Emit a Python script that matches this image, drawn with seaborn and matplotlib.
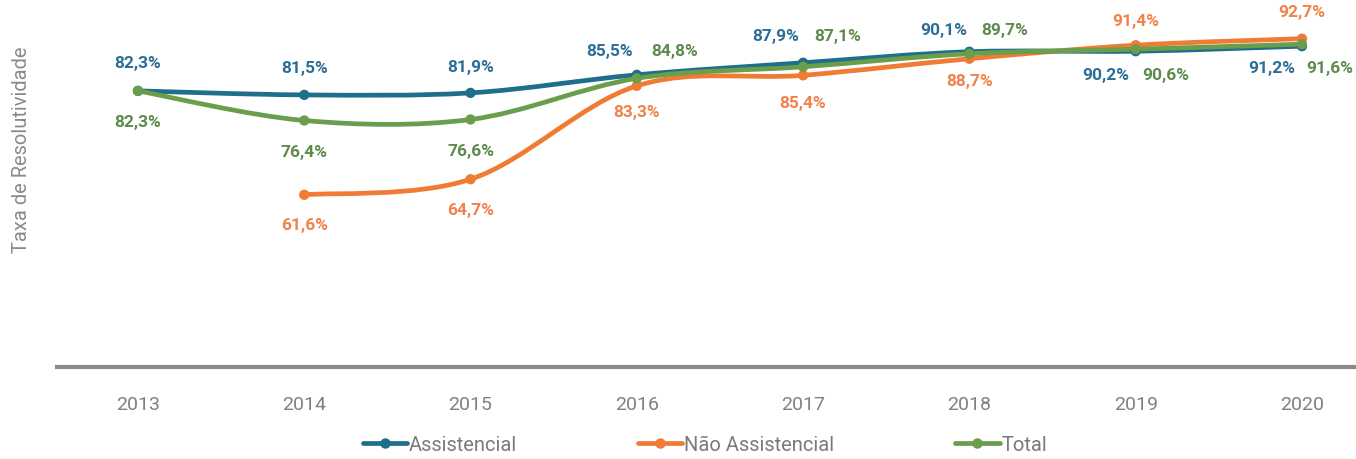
import numpy as np
import pandas as pd
import matplotlib
matplotlib.use("Agg")
import matplotlib.pyplot as plt
from matplotlib.path import Path
from matplotlib.patches import PathPatch
import seaborn as sns
from matplotlib import font_manager

# ---------------- data ----------------
years = [2013, 2014, 2015, 2016, 2017, 2018, 2019, 2020]
assistencial = [82.3, 81.5, 81.9, 85.5, 87.9, 90.1, 90.2, 91.2]
nao_assistencial = [None, 61.6, 64.7, 83.3, 85.4, 88.7, 91.4, 92.7]
total = [82.3, 76.4, 76.6, 84.8, 87.1, 89.7, 90.6, 91.6]
series_names = ["Assistencial", "Não Assistencial", "Total"]

# label placement: (dx px, dy px) per point
lab_assist = [(0, 28), (0, 27), (0, 26), (-27, 24), (-27, 27), (-26, 22), (-30, -23), (-30, -21)]
lab_nao = [None, (0, -30), (0, -30), (0, -26), (0, -27), (0, -22), (0, 25), (0, 27)]
lab_total = [(0, -31), (0, -31), (0, -31), (38, 27.5), (35, 31), (35, 24), (30, -25), (28, -23)]

colors = {"Assistencial": "#1e6e8c", "Não Assistencial": "#f07b35", "Total": "#6a9d4c"}
label_colors = {"Assistencial": "#2b6f96", "Não Assistencial": "#f0824a", "Total": "#5e8a4c"}

# ---------------- fonts ----------------
sns.set_theme(style="white")
avail = {f.name for f in font_manager.fontManager.ttflist}
narrow = "Liberation Sans Narrow" if "Liberation Sans Narrow" in avail else "Roboto"
plt.rcParams["font.family"] = [narrow, "DejaVu Sans"]

W, H = 1356, 460
fig = plt.figure(figsize=(W / 100, H / 100), dpi=100)
ax = fig.add_axes([57 / W, 92 / H, 1 - 57 / W, 1 - 92 / H])

rows = []
for name, vals in zip(series_names, [assistencial, nao_assistencial, total]):
    for y, v in zip(years, vals):
        if v is not None:
            rows.append({"Ano": y, "Taxa": v, "Série": name})
df = pd.DataFrame(rows)


def smooth_path(xs, ys):
    # Catmull-Rom style cubic bezier through data points (in data coords)
    verts = [(xs[0], ys[0])]
    codes = [Path.MOVETO]
    n = len(xs)
    for i in range(n - 1):
        p0 = (xs[max(i - 1, 0)], ys[max(i - 1, 0)])
        p1 = (xs[i], ys[i])
        p2 = (xs[i + 1], ys[i + 1])
        p3 = (xs[min(i + 2, n - 1)], ys[min(i + 2, n - 1)])
        c1 = (p1[0] + (p2[0] - p0[0]) / 6, p1[1] + (p2[1] - p0[1]) / 6)
        c2 = (p2[0] - (p3[0] - p1[0]) / 6, p2[1] - (p3[1] - p1[1]) / 6)
        verts += [c1, c2, p2]
        codes += [Path.CURVE4] * 3
    return Path(verts, codes)


order = ["Não Assistencial", "Assistencial", "Total"]
zo = {"Não Assistencial": 3, "Assistencial": 4, "Total": 5}
for name in order:
    sub = df[df["Série"] == name]
    p = smooth_path(sub["Ano"].tolist(), sub["Taxa"].tolist())
    ax.add_patch(PathPatch(p, facecolor="none", edgecolor=colors[name], lw=3.4,
                           capstyle="round", zorder=zo[name]))

sns.scatterplot(data=df, x="Ano", y="Taxa", hue="Série", palette=colors,
                hue_order=series_names, s=55, edgecolor="none", legend=False,
                ax=ax, zorder=6)


def fmt(v):
    return f"{v:.1f}".replace(".", ",") + "%"


for name, vals, labs in [("Assistencial", assistencial, lab_assist),
                         ("Não Assistencial", nao_assistencial, lab_nao),
                         ("Total", total, lab_total)]:
    for y, v, off in zip(years, vals, labs):
        if v is None or off is None:
            continue
        ax.annotate(fmt(v), (y, v), xytext=off, textcoords="offset pixels",
                    ha="center", va="center", fontsize=12.5, fontweight="bold",
                    color=label_colors[name], zorder=7)

ax.set_xlim(2012.513, 2020.325)
ax.set_ylim(27.3, 100.6)
ax.set_xticks(years)
ax.set_xticklabels([str(y) for y in years], fontsize=14, color="#808080")
ax.set_yticks([])
ax.set_xlabel("")
ax.set_ylabel("")
for s in ["top", "right", "left"]:
    ax.spines[s].set_visible(False)
ax.spines["bottom"].set_color("#8a8a8a")
ax.spines["bottom"].set_linewidth(3)
ax.tick_params(axis="x", length=0, pad=20)

fig.text(22 / W, 1 - 150 / H, "Taxa de Resolutividade", rotation=90,
         ha="center", va="center", fontsize=14.5, color="#8a8a8a")

handles = [plt.Line2D([], [], color=colors[n], lw=3.4, marker="o", markersize=6.5)
           for n in series_names]
leg = fig.legend(handles, series_names, loc="center", bbox_to_anchor=(705 / W, 1 - 446 / H),
                 ncol=3, frameon=False, fontsize=14.5, handlelength=2.2, handletextpad=0.1,
                 columnspacing=6.0)
for t in leg.get_texts():
    t.set_color("#7a7a7a")

fig.savefig("out.png", dpi=100, facecolor="white")
